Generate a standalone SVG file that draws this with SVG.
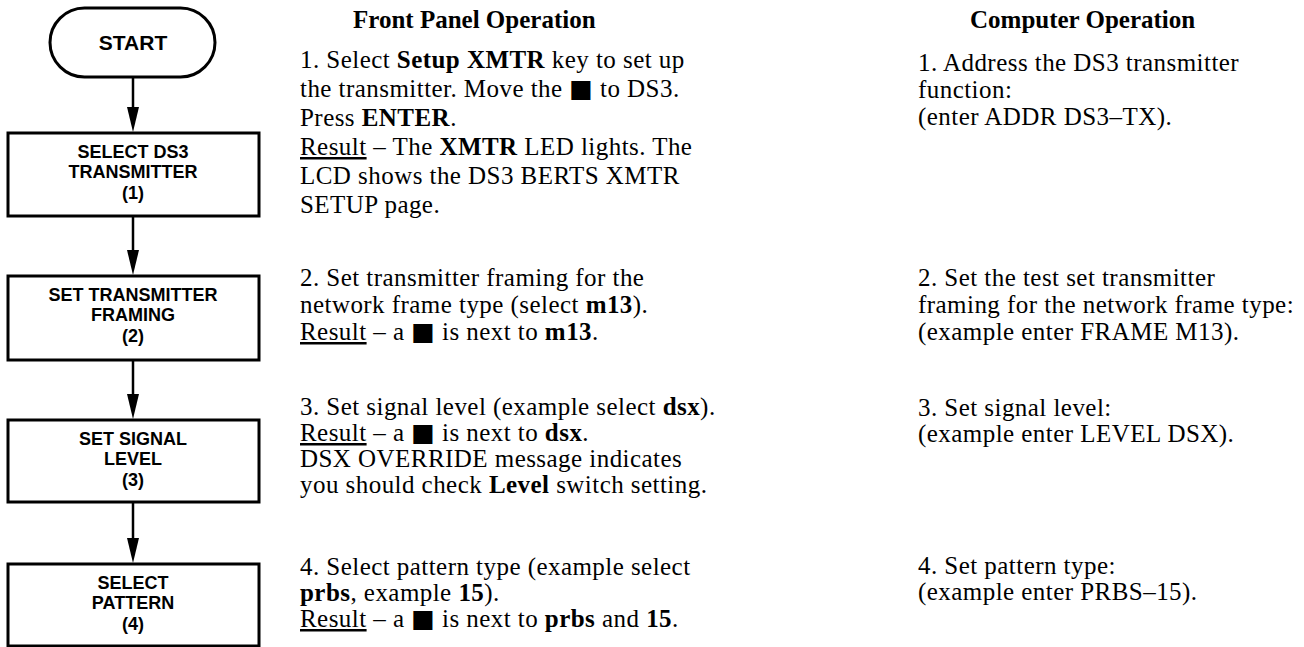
<svg xmlns="http://www.w3.org/2000/svg" width="1304" height="647" viewBox="0 0 1304 647">
<style>
.shape{fill:#fff;stroke:#000;stroke-width:3}
.lbl{font-family:"Liberation Sans",Arial,sans-serif;font-size:18px;font-weight:bold;text-anchor:middle;fill:#000}
.start{font-family:"Liberation Sans",Arial,sans-serif;font-size:21px;font-weight:bold;text-anchor:middle;fill:#000}
.txt{font-family:"Liberation Serif","Times New Roman",serif;font-size:25px;letter-spacing:0.45px;fill:#000}
.hd{font-family:"Liberation Serif","Times New Roman",serif;font-size:25px;font-weight:bold;fill:#000}
.b{font-weight:bold}
.u{text-decoration:underline}
.sq{font-family:"DejaVu Sans",sans-serif;font-size:25px}
.conn{stroke:#000;stroke-width:2.5;fill:none}
.head{fill:#000}
</style>
<g id="connectors">
<line class="conn" x1="133" y1="77" x2="133" y2="120"/>
<line class="conn" x1="133" y1="216" x2="133" y2="262"/>
<line class="conn" x1="133" y1="360" x2="133" y2="406"/>
<line class="conn" x1="133" y1="502" x2="133" y2="550"/>
<path class="head" d="M127,107 L139,107 L133,132 Z"/>
<path class="head" d="M127,250 L139,250 L133,275 Z"/>
<path class="head" d="M127,394 L139,394 L133,419 Z"/>
<path class="head" d="M127,538 L139,538 L133,563 Z"/>
</g>
<g id="start">
<rect class="shape" x="50" y="8" width="165" height="69" rx="34.5" ry="34.5"/>
<text class="start" x="133" y="50">START</text>
</g>
<g id="step1">
<rect class="shape" x="8" y="133" width="251" height="83"/>
<text class="lbl" x="133" y="158">SELECT DS3</text>
<text class="lbl" x="133" y="178">TRANSMITTER</text>
<text class="lbl" x="133" y="199">(1)</text>
</g>
<g id="step2">
<rect class="shape" x="8" y="276" width="251" height="84"/>
<text class="lbl" x="133" y="301">SET TRANSMITTER</text>
<text class="lbl" x="133" y="321">FRAMING</text>
<text class="lbl" x="133" y="342">(2)</text>
</g>
<g id="step3">
<rect class="shape" x="8" y="420" width="251" height="82"/>
<text class="lbl" x="133" y="445">SET SIGNAL</text>
<text class="lbl" x="133" y="465">LEVEL</text>
<text class="lbl" x="133" y="486">(3)</text>
</g>
<g id="step4">
<rect class="shape" x="8" y="564" width="251" height="82"/>
<text class="lbl" x="133" y="589">SELECT</text>
<text class="lbl" x="133" y="609">PATTERN</text>
<text class="lbl" x="133" y="630">(4)</text>
</g>
<g id="front-panel">
<text class="hd" x="353" y="28">Front Panel Operation</text>
<text class="txt" x="300" y="68">1. Select <tspan class="b">Setup XMTR</tspan> key to set up</text>
<text class="txt" x="300" y="97">the transmitter. Move the <tspan class="sq">■</tspan> to DS3.</text>
<text class="txt" x="300" y="126">Press <tspan class="b">ENTER</tspan>.</text>
<text class="txt" x="300" y="155"><tspan class="u">Result</tspan> – The <tspan class="b">XMTR</tspan> LED lights. The</text>
<text class="txt" x="300" y="184">LCD shows the DS3 BERTS XMTR</text>
<text class="txt" x="300" y="213">SETUP page.</text>
<text class="txt" x="300" y="286">2. Set transmitter framing for the</text>
<text class="txt" x="300" y="313">network frame type (select <tspan class="b">m13</tspan>).</text>
<text class="txt" x="300" y="340"><tspan class="u">Result</tspan> – a <tspan class="sq">■</tspan> is next to <tspan class="b">m13</tspan>.</text>
<text class="txt" x="300" y="415">3. Set signal level (example select <tspan class="b">dsx</tspan>).</text>
<text class="txt" x="300" y="441"><tspan class="u">Result</tspan> – a <tspan class="sq">■</tspan> is next to <tspan class="b">dsx</tspan>.</text>
<text class="txt" x="300" y="467">DSX OVERRIDE message indicates</text>
<text class="txt" x="300" y="493">you should check <tspan class="b">Level</tspan> switch setting.</text>
<text class="txt" x="300" y="575">4. Select pattern type (example select</text>
<text class="txt" x="300" y="601"><tspan class="b">prbs</tspan>, example <tspan class="b">15</tspan>).</text>
<text class="txt" x="300" y="627"><tspan class="u">Result</tspan> –  a <tspan class="sq">■</tspan> is next to <tspan class="b">prbs</tspan> and <tspan class="b">15</tspan>.</text>
</g>
<g id="computer">
<text class="hd" x="970" y="28">Computer Operation</text>
<text class="txt" x="918" y="71">1. Address the DS3 transmitter</text>
<text class="txt" x="918" y="98">function:</text>
<text class="txt" x="918" y="125">(enter ADDR DS3–TX).</text>
<text class="txt" x="918" y="286">2. Set the test set transmitter</text>
<text class="txt" x="918" y="313">framing for the network frame type:</text>
<text class="txt" x="918" y="340">(example enter FRAME M13).</text>
<text class="txt" x="918" y="416">3. Set signal level:</text>
<text class="txt" x="918" y="442">(example enter LEVEL DSX).</text>
<text class="txt" x="918" y="574">4. Set pattern type:</text>
<text class="txt" x="918" y="600">(example enter PRBS–15).</text>
</g>
</svg>
